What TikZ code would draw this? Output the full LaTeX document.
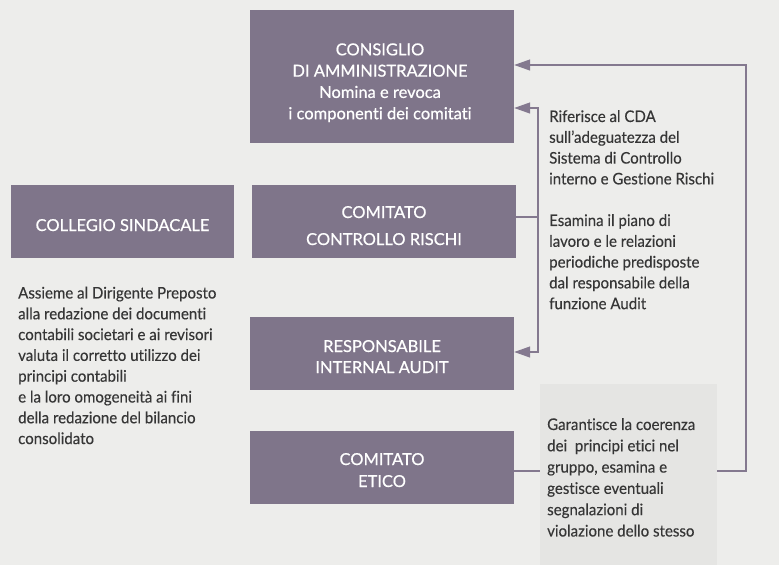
\documentclass[tikz,border=0pt]{standalone}
\usepackage{fontspec}
\setmainfont[Ligatures=NoCommon,FakeStretch=0.94,FakeBold=0.25]{Lato}
\newfontfamily\boxfont[Ligatures=NoCommon,FakeBold=0.6]{Lato}
\usetikzlibrary{arrows.meta}
\definecolor{bgc}{HTML}{EDEDEB}
\definecolor{boxc}{HTML}{7F758A}
\definecolor{linec}{HTML}{84798F}
\definecolor{txtc}{HTML}{363636}
\definecolor{palec}{HTML}{E5E5E3}
\begin{document}
\begin{tikzpicture}[x=1pt,y=-1pt,
  orgbox/.style={fill=boxc,inner sep=0pt,minimum width=264pt},
  boxtext/.style={text=white,align=center,inner sep=0pt,anchor=center},
  desc/.style={text=txtc,align=left,anchor=north west,inner sep=0pt,font=\fontsize{16}{20.8}\selectfont},
  conn/.style={draw=linec,line width=1.3pt},
  arr/.style={conn,-{Triangle[length=16pt,width=11pt]}}]
\fill[bgc] (0,0) rectangle (779,565);
\useasboundingbox (0,0) rectangle (779,565);
% boxes
\node[orgbox,minimum height=133pt] (cda) at (382,76.5) {};
\node[boxtext,font=\boxfont\fontsize{16.5}{21.3}\selectfont] (cdat) at (380,82.7) {CONSIGLIO\\DI AMMINISTRAZIONE\\Nomina e revoca\\i componenti dei comitati};
\node[orgbox,minimum width=223pt,minimum height=73pt] (cs) at (122.5,221.5) {};
\node[boxtext,font=\boxfont\fontsize{16.5}{21}\selectfont] (cst) at (122.5,225.1) {COLLEGIO SINDACALE};
\node[orgbox,minimum height=73pt] (ccr) at (384,221.5) {};
\node[boxtext,font=\boxfont\fontsize{16.5}{27}\selectfont] (ccrt) at (384,225.6) {COMITATO\\CONTROLLO RISCHI};
\node[orgbox,minimum height=73pt] (ria) at (382,353.5) {};
\node[boxtext,font=\boxfont\fontsize{16.5}{21}\selectfont] (riat) at (382,356.6) {RESPONSABILE\\INTERNAL AUDIT};
\node[orgbox,minimum height=73pt] (ce) at (382,467.5) {};
\node[boxtext,font=\boxfont\fontsize{16.5}{22}\selectfont] (cet) at (382,470.1) {COMITATO\\ETICO};
% connectors
\coordinate (j) at (538,217);
\coordinate (jt) at (538,108);
\coordinate (jb) at (538,352);
\draw[conn] (j -| ccr.east) -- (j);
\draw[arr] (j) -- (jt) -- (jt -| cda.east);
\draw[arr] (j) -- (jb) -- (jb -| ria.east);
\coordinate (r1) at (746,471);
\coordinate (r2) at (746,65);
\draw[arr] (r1 -| ce.east) -- (r1) -- (r2) -- (r2 -| cda.east);
% pale box
\node[fill=palec,inner sep=0pt,minimum width=177pt,minimum height=181pt,anchor=north west] (etbox) at (540,384) {};
% descriptions
\node[desc] (rif) at (549,110) {Riferisce al CDA\\sull'adeguatezza del\\Sistema di Controllo\\interno e Gestione Rischi\\[20.8pt]Esamina il piano di\\lavoro e le relazioni\\periodiche predisposte\\dal responsabile della\\funzione Audit};
\node[desc] (ass) at (18,286.5) {Assieme al Dirigente Preposto\\alla redazione dei documenti\\contabili societari e ai revisori\\valuta il corretto utilizzo dei\\principi contabili\\e la loro omogeneità ai fini\\della redazione del bilancio\\consolidato};
\node[desc,font=\fontsize{16}{21.3}\selectfont] (gar) at (547,418) {Garantisce la coerenza\\dei\ \ principi etici nel\\gruppo, esamina e\\gestisce eventuali\\segnalazioni di\\violazione dello stesso};
\end{tikzpicture}
\end{document}
